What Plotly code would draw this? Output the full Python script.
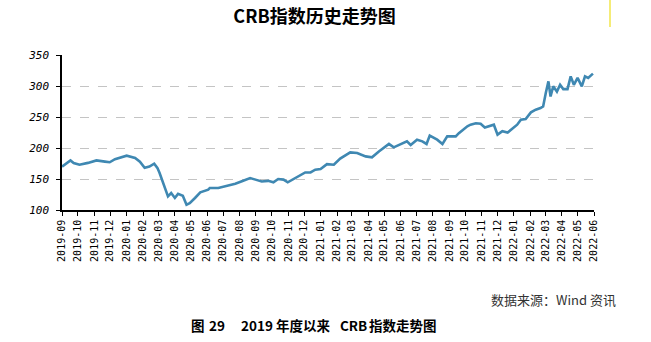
import plotly.graph_objects as go

dates = [
    "2019-09-01", "2019-09-17", "2019-09-23", "2019-10-04", "2019-10-20", "2019-11-05",
    "2019-11-21", "2019-11-30", "2019-12-10", "2020-01-01", "2020-01-17", "2020-01-26",
    "2020-02-04", "2020-02-13", "2020-02-22", "2020-02-28", "2020-03-03", "2020-03-10",
    "2020-03-19", "2020-03-25", "2020-04-01", "2020-04-07", "2020-04-16", "2020-04-23",
    "2020-04-29", "2020-05-09", "2020-05-19", "2020-06-03", "2020-06-06", "2020-06-22",
    "2020-07-08", "2020-07-24", "2020-08-08", "2020-08-21", "2020-08-31", "2020-09-12",
    "2020-09-24", "2020-10-04", "2020-10-13", "2020-10-23", "2020-10-31", "2020-11-11",
    "2020-11-24", "2020-12-03", "2020-12-13", "2020-12-22", "2021-01-01", "2021-01-13",
    "2021-01-26", "2021-02-07", "2021-02-26", "2021-03-11", "2021-03-27", "2021-04-08",
    "2021-04-21", "2021-05-10", "2021-05-19", "2021-06-01", "2021-06-13", "2021-06-20",
    "2021-07-02", "2021-07-12", "2021-07-20", "2021-07-26", "2021-08-09", "2021-08-19",
    "2021-08-28", "2021-09-13", "2021-09-19", "2021-10-05", "2021-10-11", "2021-10-21",
    "2021-10-30", "2021-11-07", "2021-11-18", "2021-11-24", "2021-12-01", "2021-12-10",
    "2021-12-20", "2021-12-29", "2022-01-07", "2022-01-14", "2022-01-23", "2022-02-02",
    "2022-02-11", "2022-02-20", "2022-02-25", "2022-03-02", "2022-03-07", "2022-03-11",
    "2022-03-16", "2022-03-23", "2022-03-29", "2022-04-04", "2022-04-12", "2022-04-18",
    "2022-04-24", "2022-05-01", "2022-05-09", "2022-05-15", "2022-05-21", "2022-05-30",
]
crb = [
    170, 180, 175.8, 173, 176, 180,
    178, 177, 182, 187.6, 184, 178,
    168, 170, 174.7, 168, 160, 143.5,
    122, 127.4, 119.4, 126, 123, 108.5,
    111, 119.4, 128.4, 132.7, 135.5, 135.5,
    139, 142.4, 147.3, 151.6, 149, 146,
    147, 144.6, 150, 149, 144.6, 150,
    157, 160.6, 160.6, 165, 166, 174,
    173, 183, 193, 192, 186.5, 185,
    194.5, 206.5, 201, 206.5, 210.7, 205,
    213.4, 210.7, 206.5, 220, 213.4, 206.5,
    218.7, 218.7, 224, 235, 237.6, 240,
    239, 233, 236, 237.6, 221.5, 227,
    225, 232, 237.6, 245.6, 246.8, 257.5,
    261.8, 264.5, 267, 288.7, 307.4, 283,
    299.4, 291, 302, 295, 295, 315.5,
    302, 313, 299.4, 315.5, 313, 320,
]
month_ticks = [
    "2019-09", "2019-10", "2019-11", "2019-12", "2020-01", "2020-02", "2020-03",
    "2020-04", "2020-05", "2020-06", "2020-07", "2020-08", "2020-09", "2020-10",
    "2020-11", "2020-12", "2021-01", "2021-02", "2021-03", "2021-04", "2021-05",
    "2021-06", "2021-07", "2021-08", "2021-09", "2021-10", "2021-11", "2021-12",
    "2022-01", "2022-02", "2022-03", "2022-04", "2022-05", "2022-06",
]
y_ticks = [100, 150, 200, 250, 300, 350]

title_text = "<b>CRB指数历史走势图</b>"
source_text = "数据来源：Wind 资讯"
caption_parts = ["图", "29", "2019", "年度以来", "CRB", "指数走势图"]
caption_starts = [189, 207, 239, 274, 338, 367]

mono = "DejaVu Sans Mono"
cjk = "Noto Sans CJK SC"

L, R, T, B = 62, 57, 55, 132
PW, PH = 651 - L - R, 342 - T - B


def px_x(x):
    return (x - L) / PW


def px_y(y):
    return (342 - B - y) / PH


fig = go.Figure()
fig.add_trace(go.Scatter(
    x=dates, y=crb, mode="lines",
    line=dict(color="#3f88b2", width=2.6),
    hoverinfo="skip", showlegend=False,
))

annotations = [
    dict(text=source_text, xref="paper", yref="paper",
         x=px_x(618), y=px_y(299), xanchor="right", yanchor="middle",
         showarrow=False, font=dict(family=cjk, size=13, color="#333333")),
]
for part, start in zip(caption_parts, caption_starts):
    annotations.append(dict(
        text="<b>" + part + "</b>", xref="paper", yref="paper",
        x=px_x(start), y=px_y(325), xanchor="left", yanchor="middle",
        showarrow=False, font=dict(family=cjk, size=13.5, color="#000000")))

fig.update_layout(
    width=651, height=342,
    margin=dict(l=L, r=R, t=T, b=B),
    paper_bgcolor="white", plot_bgcolor="white",
    title=dict(text=title_text, x=314.5 / 651, xref="container", xanchor="center",
               y=1 - 17 / 342, yref="container", yanchor="middle",
               font=dict(family=cjk, size=18, color="#000000")),
    xaxis=dict(
        type="date",
        range=["2019-09-01", "2022-06-01"],
        tickvals=[m + "-01" for m in month_ticks],
        ticktext=month_ticks,
        tickangle=-90,
        tickfont=dict(family=mono, size=10, color="#000000"),
        ticks="outside", ticklen=4, tickcolor="#000000", tickwidth=1,
        showline=True, linecolor="#000000", linewidth=1.5,
        showgrid=False, zeroline=False,
    ),
    yaxis=dict(
        range=[100, 350],
        tickvals=y_ticks,
        tickfont=dict(family=mono, size=11, color="#000000", style="italic"),
        ticks="outside", ticklen=4, tickcolor="#000000", tickwidth=1,
        ticklabelstandoff=5,
        showline=True, linecolor="#000000", linewidth=1.5,
        showgrid=True, gridcolor="#c4c4c4", griddash="dash", gridwidth=1.3,
        zeroline=False,
    ),
    annotations=annotations,
    shapes=[
        dict(type="line", xref="paper", yref="paper",
             x0=px_x(610), x1=px_x(610), y0=px_y(0), y1=px_y(27),
             line=dict(color="#f2e64a", width=1.5)),
    ],
)

fig.write_html("out.html")
